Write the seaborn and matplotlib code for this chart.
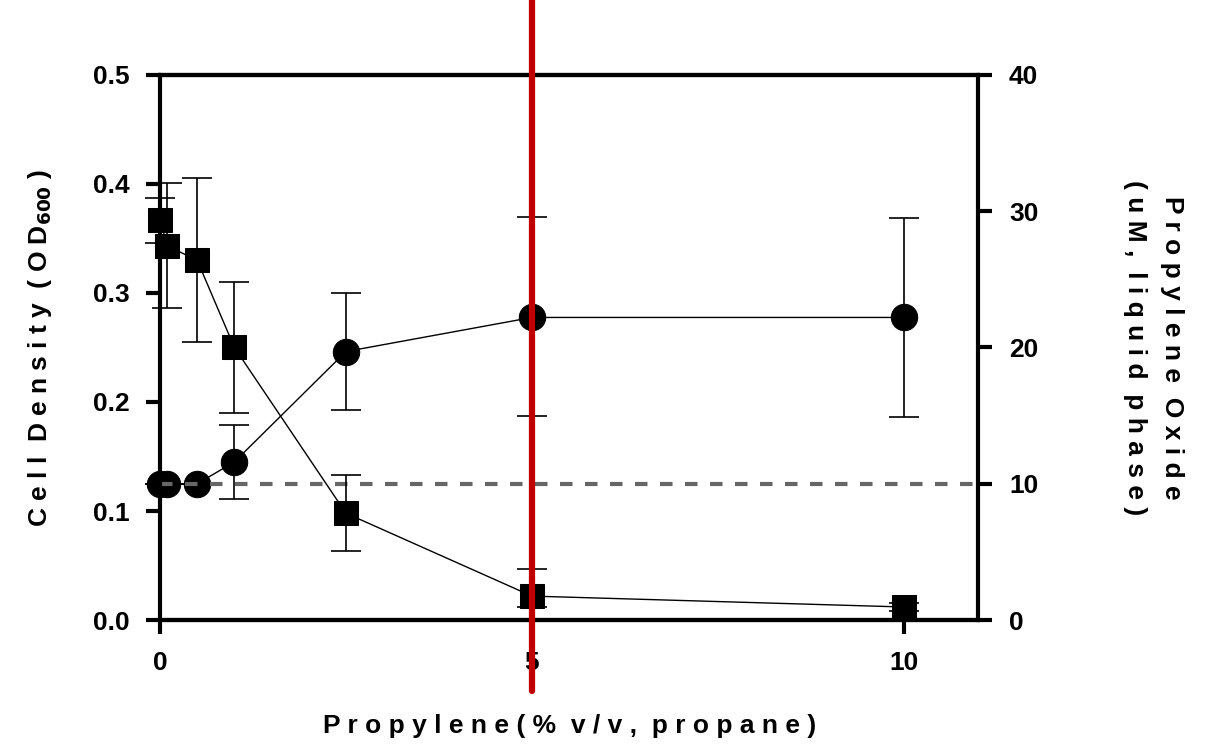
import matplotlib
matplotlib.use("Agg")
import matplotlib.pyplot as plt
import seaborn as sns
import pandas as pd

x = [0, 0.1, 0.5, 1, 2.5, 5, 10]
cell_density = [0.367, 0.343, 0.330, 0.250, 0.098, 0.022, 0.012]
cell_lo = [0.346, 0.286, 0.255, 0.190, 0.063, 0.012, 0.008]
cell_hi = [0.387, 0.401, 0.405, 0.310, 0.133, 0.047, 0.016]
po = [10.0, 10.0, 10.0, 11.6, 19.7, 22.2, 22.2]
po_lo = [10.0, 10.0, 10.0, 8.9, 15.4, 15.0, 14.9]
po_hi = [10.0, 10.0, 10.0, 14.3, 24.0, 29.6, 29.5]
threshold = 0.125

sns.set_style("ticks")
plt.rcParams['font.family'] = ['Liberation Sans', 'DejaVu Sans']
plt.rcParams['font.weight'] = 'bold'
plt.rcParams['text.color'] = 'black'
plt.rcParams['axes.labelcolor'] = 'black'
plt.rcParams['xtick.color'] = 'black'
plt.rcParams['ytick.color'] = 'black'
plt.rcParams['axes.edgecolor'] = 'black'

fig = plt.figure(figsize=(12.09, 7.48), dpi=100)
ax = fig.add_axes([0.1323, 0.171, 0.677, 0.729])
ax2 = ax.twinx()

df1 = pd.DataFrame({"x": x, "y": cell_density})
df2 = pd.DataFrame({"x": x, "y": po})

ax.errorbar(x, cell_density, yerr=[[c - l for c, l in zip(cell_density, cell_lo)],
                                   [h - c for c, h in zip(cell_density, cell_hi)]],
            fmt='none', ecolor='black', elinewidth=1.2, capsize=11, capthick=1.2, zorder=3, clip_on=False)
sns.lineplot(data=df1, x="x", y="y", ax=ax, color='black', linewidth=1, marker='s',
             markersize=17, markeredgecolor='black', zorder=4, clip_on=False)
ax.plot([0, 11], [threshold, threshold], ls=(0, (3, 3)), color='#666666', lw=3, zorder=2)

ax2.errorbar(x, po, yerr=[[c - l for c, l in zip(po, po_lo)], [h - c for c, h in zip(po, po_hi)]],
             fmt='none', ecolor='black', elinewidth=1.2, capsize=11, capthick=1.2, zorder=3, clip_on=False)
sns.lineplot(data=df2, x="x", y="y", ax=ax2, color='black', linewidth=1, marker='o',
             markersize=19, markeredgecolor='black', zorder=4, clip_on=False)

ax.set_xlim(0, 11)
ax.set_ylim(0, 0.5)
ax2.set_ylim(0, 40)
ax.set_xticks([0, 5, 10])
ax.set_yticks([0, 0.1, 0.2, 0.3, 0.4, 0.5])
ax.set_yticklabels(['0.0', '0.1', '0.2', '0.3', '0.4', '0.5'])
ax2.set_yticks([0, 10, 20, 30, 40])

for a in (ax, ax2):
    for s in a.spines.values():
        s.set_linewidth(3)
    a.tick_params(width=3, length=10, labelsize=19, direction='out', pad=12)
ax.spines['right'].set_visible(False)
ax2.spines['left'].set_visible(False)

ax.set_xlabel('P r o p y l e n e ( %  v / v ,  p r o p a n e )', fontsize=19, fontweight='bold', labelpad=28)
ax.set_ylabel('C e l l  D e n s i t y  ( O D$_{\\mathbf{600}}$ )', fontsize=19, fontweight='bold', labelpad=28)
ax2.set_ylabel('P r o p y l e n e  O x i d e\n( u M ,  l i q u i d  p h a s e )', fontsize=19,
               fontweight='bold', rotation=270, labelpad=105, linespacing=1.7)

ax.axvline(5, ymin=-0.13, ymax=1.14, color='#c00000', lw=4.5, clip_on=False, zorder=10)
ax.set_zorder(ax2.get_zorder() + 1)
ax.patch.set_visible(False)

fig.savefig('out.png', dpi=100)
